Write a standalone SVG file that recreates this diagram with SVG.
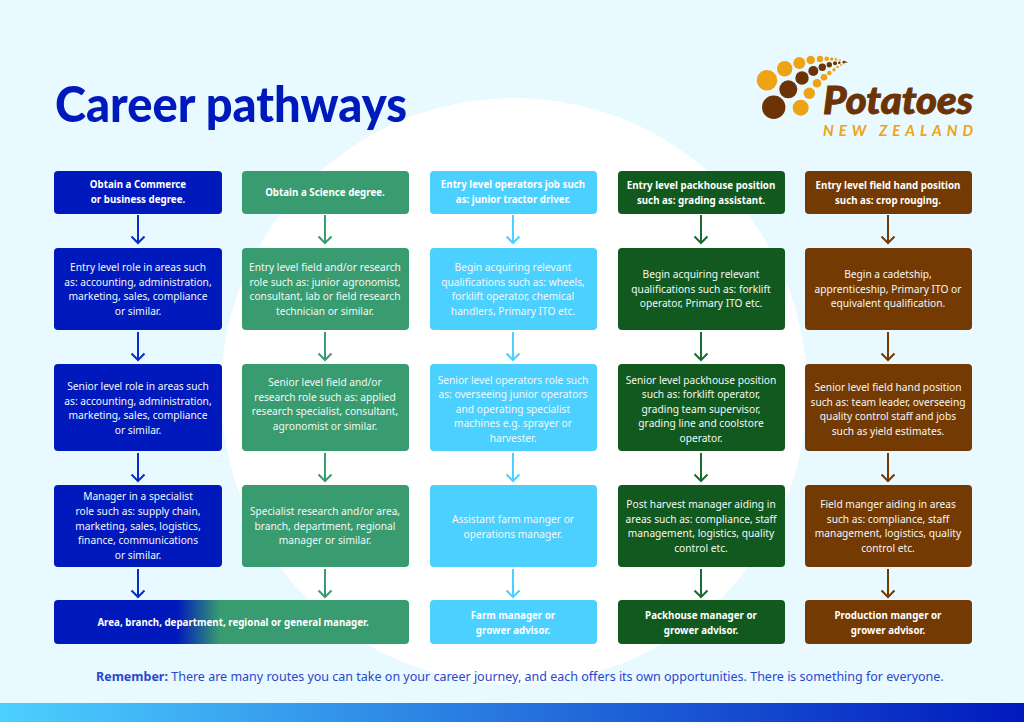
<svg xmlns="http://www.w3.org/2000/svg" width="1024" height="722" viewBox="0 0 1024 722">
<style>
text{font-family:"Noto Sans","Open Sans","Liberation Sans",sans-serif}
.b{text-anchor:middle;font-size:10.2px;fill:#f4f8f6}
.h{text-anchor:middle;font-size:9.75px;font-weight:700;fill:#fff}
.c1{fill:#0019bd}.c2{fill:#389c70}.c3{fill:#4cd0ff}.c4{fill:#12591f}.c5{fill:#733a04}
.a{fill:none;stroke-width:2}
.o{fill:#eea314}.r{fill:#6b3306}
</style>
<defs>
<linearGradient id="bar"><stop offset="0" stop-color="#4cd0ff"/><stop offset="1" stop-color="#0019bd"/></linearGradient>
<linearGradient id="mix"><stop offset="0.346" stop-color="#0019bd"/><stop offset="0.468" stop-color="#389c70"/></linearGradient>
</defs>
<rect width="1024" height="722" fill="#e8f9ff"/>
<circle cx="514" cy="391" r="293" fill="#fff"/>
<rect y="703" width="1024" height="19" fill="url(#bar)"/>
<text x="55" y="122" font-size="49" fill="#0019bd" textLength="352" lengthAdjust="spacingAndGlyphs" style="font-family:Lato,sans-serif;font-weight:900">Career pathways</text>
<g id="logo">
<g class="o"><circle cx="767" cy="80.300" r="10.300"/><circle cx="784.700" cy="68.700" r="7.700"/><circle cx="799.300" cy="63" r="6"/><circle cx="810.700" cy="60" r="4.300"/><circle cx="820" cy="59" r="3.200"/><circle cx="826.700" cy="58.700" r="2.300"/><circle cx="831.700" cy="59" r="1.700"/><circle cx="836" cy="59.300" r="1.300"/><circle cx="840" cy="60" r="1"/>
<circle cx="800.700" cy="107.700" r="8"/><circle cx="809.300" cy="93.300" r="5.700"/><circle cx="817" cy="83.300" r="4.300"/><circle cx="824" cy="77.300" r="3.300"/><circle cx="829.300" cy="73" r="2.300"/><circle cx="834" cy="69.700" r="1.700"/><circle cx="837.700" cy="67" r="1.300"/><circle cx="841" cy="65" r="1"/><circle cx="844" cy="63.700" r=".7"/></g>
<g class="r"><circle cx="773.700" cy="107.300" r="11.700"/><circle cx="788.300" cy="89.300" r="9"/><circle cx="802" cy="78" r="6.700"/><circle cx="813.300" cy="71" r="5"/><circle cx="822.300" cy="67.300" r="3.700"/><circle cx="829.300" cy="64.700" r="2.700"/><circle cx="835" cy="63.300" r="2"/><circle cx="839.300" cy="62.700" r="1.300"/><circle cx="843.300" cy="62.300" r="1"/><path d="M843 60.500l5 1.800-5 1z"/></g>
<text x="823" y="114" font-size="37" font-style="italic" fill="#6b3306" stroke="#6b3306" stroke-width=".9" textLength="150" lengthAdjust="spacingAndGlyphs" style="font-family:Lato,sans-serif;font-weight:900">Potatoes</text>
<text x="823" y="136" font-size="15" font-style="italic" fill="#eea314" textLength="150" style="font-family:Lato,sans-serif;font-weight:700">NEW ZEALAND</text>
</g>
<g id="connectors" class="a">
<g stroke="#0b2cc4" class="a"><path d="M138 215V243M131.500 236.500L138 243L144.500 236.500M138 332V360M131.500 353.500L138 360L144.500 353.500M138 453V481M131.500 474.500L138 481L144.500 474.500M138 569V597M131.500 590.500L138 597L144.500 590.500"/></g>
<g stroke="#389c70" class="a"><path d="M325 215V243M318.500 236.500L325 243L331.500 236.500M325 332V360M318.500 353.500L325 360L331.500 353.500M325 453V481M318.500 474.500L325 481L331.500 474.500M325 569V597M318.500 590.500L325 597L331.500 590.500"/></g>
<g stroke="#4cd0ff" class="a"><path d="M513 215V243M506.500 236.500L513 243L519.500 236.500M513 332V360M506.500 353.500L513 360L519.500 353.500M513 453V481M506.500 474.500L513 481L519.500 474.500M513 569V597M506.500 590.500L513 597L519.500 590.500"/></g>
<g stroke="#1a6b30" class="a"><path d="M701 215V243M694.500 236.500L701 243L707.500 236.500M701 332V360M694.500 353.500L701 360L707.500 353.500M701 453V481M694.500 474.500L701 481L707.500 474.500M701 569V597M694.500 590.500L701 597L707.500 590.500"/></g>
<g stroke="#733a04" class="a"><path d="M888 215V243M881.500 236.500L888 243L894.500 236.500M888 332V360M881.500 353.500L888 360L894.500 353.500M888 453V481M881.500 474.500L888 481L894.500 474.500M888 569V597M881.500 590.500L888 597L894.500 590.500"/></g>
</g>
<g id="n11"><rect class="c1" x="54" y="171" width="168" height="43" rx="4"/><text class="h" x="138" y="188">Obtain a Commerce</text><text class="h" x="138" y="203">or business degree.</text></g>
<g id="n12"><rect class="c1" x="54" y="248" width="168" height="82" rx="4"/><text class="b" x="138" y="271">Entry level role in areas such</text><text class="b" x="138" y="286">as: accounting, administration,</text><text class="b" x="138" y="300">marketing, sales, compliance</text><text class="b" x="138" y="315">or similar.</text></g>
<g id="n13"><rect class="c1" x="54" y="364" width="168" height="87" rx="4"/><text class="b" x="138" y="390">Senior level role in areas such</text><text class="b" x="138" y="405">as: accounting, administration,</text><text class="b" x="138" y="419">marketing, sales, compliance</text><text class="b" x="138" y="434">or similar.</text></g>
<g id="n14"><rect class="c1" x="54" y="485" width="168" height="82" rx="4"/><text class="b" x="138" y="500">Manager in a specialist</text><text class="b" x="138" y="515">role such as: supply chain,</text><text class="b" x="138" y="530">marketing, sales, logistics,</text><text class="b" x="138" y="544">finance, communications</text><text class="b" x="138" y="559">or similar.</text></g>
<g id="n21"><rect class="c2" x="242" y="171" width="167" height="43" rx="4"/><text class="h" x="325" y="196">Obtain a Science degree.</text></g>
<g id="n22"><rect class="c2" x="242" y="248" width="167" height="82" rx="4"/><text class="b" x="325" y="271">Entry level field and/or research</text><text class="b" x="325" y="286">role such as: junior agronomist,</text><text class="b" x="325" y="300">consultant, lab or field research</text><text class="b" x="325" y="315">technician or similar.</text></g>
<g id="n23"><rect class="c2" x="242" y="364" width="167" height="87" rx="4"/><text class="b" x="325" y="386">Senior level field and/or</text><text class="b" x="325" y="401">research role such as: applied</text><text class="b" x="325" y="415">research specialist, consultant,</text><text class="b" x="325" y="430">agronomist or similar.</text></g>
<g id="n24"><rect class="c2" x="242" y="485" width="167" height="82" rx="4"/><text class="b" x="325" y="515">Specialist research and/or area,</text><text class="b" x="325" y="530">branch, department, regional</text><text class="b" x="325" y="544">manager or similar.</text></g>
<g id="n15"><rect fill="url(#mix)" x="54" y="600" width="355" height="44" rx="4"/><text class="h" x="233" y="626">Area, branch, department, regional or general manager.</text></g>
<g id="n31"><rect class="c3" x="430" y="171" width="167" height="43" rx="4"/><text class="h" x="513" y="188">Entry level operators job such</text><text class="h" x="513" y="203">as: junior tractor driver.</text></g>
<g id="n32"><rect class="c3" x="430" y="248" width="167" height="82" rx="4"/><text class="b" x="513" y="271">Begin acquiring relevant</text><text class="b" x="513" y="286">qualifications such as: wheels,</text><text class="b" x="513" y="300">forklift operator, chemical</text><text class="b" x="513" y="315">handlers, Primary ITO etc.</text></g>
<g id="n33"><rect class="c3" x="430" y="364" width="167" height="87" rx="4"/><text class="b" x="513" y="384">Senior level operators role such</text><text class="b" x="513" y="398">as: overseeing junior operators</text><text class="b" x="513" y="413">and operating specialist</text><text class="b" x="513" y="427">machines e.g. sprayer or</text><text class="b" x="513" y="442">harvester.</text></g>
<g id="n34"><rect class="c3" x="430" y="485" width="167" height="82" rx="4"/><text class="b" x="513" y="523">Assistant farm manger or</text><text class="b" x="513" y="538">operations manager.</text></g>
<g id="n35"><rect class="c3" x="430" y="600" width="167" height="44" rx="4"/><text class="h" x="513" y="619">Farm manager or</text><text class="h" x="513" y="634">grower advisor.</text></g>
<g id="n41"><rect class="c4" x="618" y="171" width="167" height="43" rx="4"/><text class="h" x="701" y="189">Entry level packhouse position</text><text class="h" x="701" y="204">such as: grading assistant.</text></g>
<g id="n42"><rect class="c4" x="618" y="248" width="167" height="82" rx="4"/><text class="b" x="701" y="278">Begin acquiring relevant</text><text class="b" x="701" y="293">qualifications such as: forklift</text><text class="b" x="701" y="307">operator, Primary ITO etc.</text></g>
<g id="n43"><rect class="c4" x="618" y="364" width="167" height="87" rx="4"/><text class="b" x="701" y="384">Senior level packhouse position</text><text class="b" x="701" y="398">such as: forklift operator,</text><text class="b" x="701" y="413">grading team supervisor,</text><text class="b" x="701" y="427">grading line and coolstore</text><text class="b" x="701" y="442">operator.</text></g>
<g id="n44"><rect class="c4" x="618" y="485" width="167" height="82" rx="4"/><text class="b" x="701" y="508">Post harvest manager aiding in</text><text class="b" x="701" y="523">areas such as: compliance, staff</text><text class="b" x="701" y="537">management, logistics, quality</text><text class="b" x="701" y="552">control etc.</text></g>
<g id="n45"><rect class="c4" x="618" y="600" width="167" height="44" rx="4"/><text class="h" x="701" y="619">Packhouse manager or</text><text class="h" x="701" y="634">grower advisor.</text></g>
<g id="n51"><rect class="c5" x="805" y="171" width="167" height="43" rx="4"/><text class="h" x="888" y="189">Entry level field hand position</text><text class="h" x="888" y="204">such as: crop rouging.</text></g>
<g id="n52"><rect class="c5" x="805" y="248" width="167" height="82" rx="4"/><text class="b" x="888" y="278">Begin a cadetship,</text><text class="b" x="888" y="293">apprenticeship, Primary ITO or</text><text class="b" x="888" y="307">equivalent qualification.</text></g>
<g id="n53"><rect class="c5" x="805" y="364" width="167" height="87" rx="4"/><text class="b" x="888" y="391">Senior level field hand position</text><text class="b" x="888" y="406">such as: team leader, overseeing</text><text class="b" x="888" y="420">quality control staff and jobs</text><text class="b" x="888" y="435">such as yield estimates.</text></g>
<g id="n54"><rect class="c5" x="805" y="485" width="167" height="82" rx="4"/><text class="b" x="888" y="508">Field manger aiding in areas</text><text class="b" x="888" y="523">such as: compliance, staff</text><text class="b" x="888" y="537">management, logistics, quality</text><text class="b" x="888" y="552">control etc.</text></g>
<g id="n55"><rect class="c5" x="805" y="600" width="167" height="44" rx="4"/><text class="h" x="888" y="619">Production manger or</text><text class="h" x="888" y="634">grower advisor.</text></g>
<text x="96" y="681" font-size="12.500" fill="#2a48cc"><tspan font-weight="700">Remember:</tspan> There are many routes you can take on your career journey, and each offers its own opportunities. There is something for everyone.</text>
</svg>
